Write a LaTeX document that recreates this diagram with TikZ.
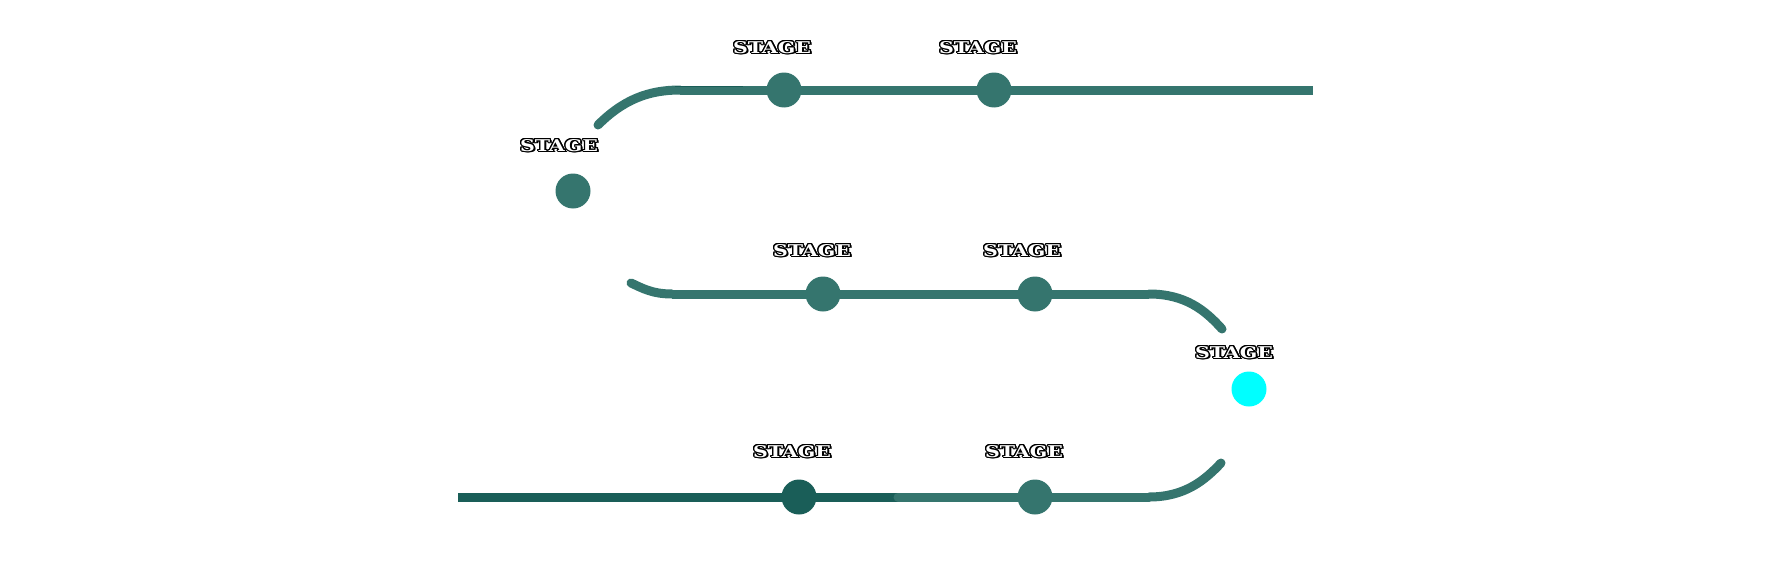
\documentclass[tikz,border=0pt]{standalone}
\usepackage{fontspec}
\setmainfont{DejaVu Serif}
\usepackage{contour}
\usetikzlibrary{backgrounds}
\contourlength{0.6pt}
\definecolor{tealmain}{RGB}{53,117,110}
\definecolor{tealdark}{RGB}{26,94,88}
\definecolor{cyanstop}{RGB}{0,255,255}
\newcommand{\stagelbl}{\resizebox{78pt}{12pt}{\rlap{\kern1pt\raisebox{-0.9pt}{\bfseries STAGE}}\contour{black}{\textcolor{white}{\bfseries STAGE}}}}
\begin{document}
\begin{tikzpicture}[x=1pt,y=-1pt,
  dot/.style={circle, fill=tealmain, minimum size=35pt, inner sep=0pt},
  lbl/.style={inner sep=0pt},
  track/.style={draw=tealmain, line width=9pt},
  darktrack/.style={draw=tealdark, line width=9pt},
  rounded end/.style={line cap=round}]
\useasboundingbox (0,0) rectangle (1766,586);
% stations
\node[dot] (A) at (573,191) {};
\node[dot] (B) at (784,90) {};
\node[dot] (C) at (994,90) {};
\node[dot] (D) at (823,294) {};
\node[dot] (E) at (1035,294) {};
\node[dot, fill=cyanstop] (F) at (1249,389) {};
\node[dot, fill=tealdark] (G) at (799,497) {};
\node[dot] (H) at (1035,497) {};
% labels
\node[lbl] (LA) at (559,146) {\stagelbl};
\node[lbl] (LB) at (772,48) {\stagelbl};
\node[lbl] (LC) at (978,48) {\stagelbl};
\node[lbl] (LD) at (812,251) {\stagelbl};
\node[lbl] (LE) at (1022,251) {\stagelbl};
\node[lbl] (LF) at (1234,353) {\stagelbl};
\node[lbl] (LG) at (792,452) {\stagelbl};
\node[lbl] (LH) at (1024,452) {\stagelbl};
% track points
\coordinate (s1) at (598,125);
\coordinate (t1) at (680,90);
\coordinate (e1) at (1313,90);
\coordinate (s2) at (631,283);
\coordinate (t2) at (672,294);
\coordinate (t3) at (1149,294);
\coordinate (e3) at (1222,329);
\coordinate (e4) at (1221,463);
\coordinate (t4) at (1149,497);
\coordinate (s5) at (458,497);
\coordinate (d5) at (902,497);
\coordinate (m5) at (898,497);
\coordinate (k1) at (675,86.5);
\coordinate (k2) at (743,86.5);
\begin{scope}[on background layer]
  % top row
  \draw[track, rounded end] (s1) .. controls (623,100) and (648,90) .. (t1);
  \draw[track] (t1) -- (B.center) -- (C.center) -- (e1);
  \draw[draw=tealdark, line width=1.5pt] (k1) -- (k2);
  % middle row
  \draw[track, rounded end] (s2) .. controls (642,288) and (652,294) .. (t2);
  \draw[track] (t2) -- (D.center) -- (E.center) -- (t3);
  \draw[track, rounded end] (t3) .. controls (1185,294) and (1205,310) .. (e3);
  % bottom row
  \draw[darktrack] (s5) -- (G.center) -- (d5);
  \draw[track, rounded end] (m5) -- (H.center) -- (t4);
  \draw[track, rounded end] (t4) .. controls (1185,497) and (1205,480) .. (e4);
\end{scope}
\end{tikzpicture}
\end{document}
